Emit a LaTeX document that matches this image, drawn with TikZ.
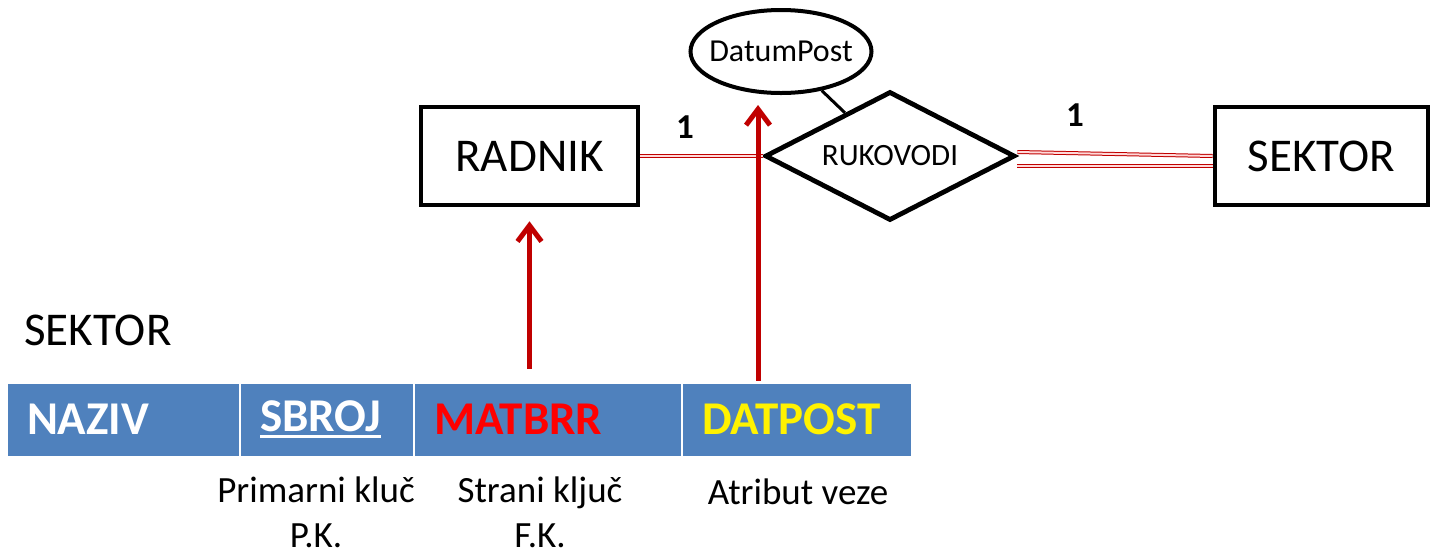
\documentclass[tikz,border=0pt]{standalone}
\usepackage{fontspec}
\setmainfont{Carlito}
\usepackage{tikz}
\usetikzlibrary{positioning}
\usetikzlibrary{arrows.meta}
\usetikzlibrary{shapes}

\definecolor{keyred}{RGB}{192,0,0}
\definecolor{cellblue}{RGB}{79,129,189}
\newcommand{\pkline}[1]{\setbox0=\hbox{#1}\rlap{\rule[-3.5pt]{\wd0}{1.5pt}}\box0}

\begin{document}
\begin{tikzpicture}[x=0.5pt,y=-0.5pt,
      ent style/.style={rectangle,draw=black,line width=2.3pt,minimum
        width=108.5pt,minimum height=49pt,font=\fontsize{23.5}{28}\selectfont},
      rel style/.style={diamond,aspect=2,draw=black,line width=2.4pt,minimum
        width=125pt,minimum height=64.5pt,inner sep=0pt,font=\fontsize{15.5}{19}\selectfont},
      attr style/.style={ellipse,draw=black,line width=2pt,minimum
        width=90.5pt,minimum height=41.5pt,inner xsep=-4.5pt,inner ysep=0pt,font=\fontsize{16}{19}\selectfont},
      cell style/.style={rectangle,fill=cellblue,draw=white,line width=0.5pt,
        minimum height=36.5pt,inner xsep=10pt,align=left,font=\bfseries\fontsize{23.5}{28}\selectfont},
      card style/.style={font=\bfseries\fontsize{17.5}{21}\selectfont},
      note style/.style={align=center,inner sep=0pt,font=\fontsize{18.5}{22.5}\selectfont},
      link style/.style={draw=keyred,line width=0.5pt,double=pink!60,double distance=1pt},
      key arrow/.style={draw=keyred,line width=2.5pt,-{Straight Barb[length=8pt,width=12pt]}}
      ]
      \useasboundingbox (0,0) rectangle (1430,553);

      % ER part
      \node[ent style] (radnik) at (529.5,156) {RADNIK};
      \node[rel style] (rukovodi) at (890,156) {RUKOVODI};
      \node[ent style, minimum width=106.5pt] (sektor) at (1321.5,156) {SEKTOR};
      \node[attr style] (datumpost) at (781,51.5) {DatumPost};

      \node[card style] (cardradnik) at (685,127) {1};
      \node[card style] (cardsektor) at (1075,115) {1};

      \draw[line width=1.5pt] (datumpost) -- (rukovodi);
      \draw[link style] (radnik) -- (rukovodi);
      \draw[link style] ([yshift=2pt]rukovodi.east) -- (sektor.west);
      \draw[link style] ([yshift=-5pt]rukovodi.east) -- ([yshift=-5pt]sektor.west);

      % relation table
      \node[anchor=west,inner sep=0pt,font=\fontsize{23.5}{28}\selectfont] (tabname) at (24,330) {SEKTOR};

      \node[cell style, text width=96pt, text=white] (naziv) at (123,419.5) {NAZIV};
      \node[cell style, text width=66.5pt, text=white, right=0pt of naziv] (sbroj) {\pkline{SBROJ}};
      \node[cell style, text width=113.5pt, text=red, right=0pt of sbroj] (matbrr) {MATBRR};
      \node[cell style, text width=94.5pt, text=yellow, right=0pt of matbrr] (datpost) {DATPOST};

      \node[note style, anchor=base] (pknote) at (316,547) {Primarni kluč\\P.K.};
      \node[note style, anchor=base] (fknote) at (540,547) {Strani ključ\\F.K.};
      \node[note style, anchor=base] (attrnote) at (798,504) {Atribut veze};

      \coordinate (attrtip) at (758,105);
      \draw[key arrow, shorten <=7pt, shorten >=7pt] (radnik.south |- matbrr.north) -- (radnik.south);
      \draw[key arrow, shorten <=1pt] (attrtip |- datpost.north) -- (attrtip);

    \end{tikzpicture}
\end{document}
